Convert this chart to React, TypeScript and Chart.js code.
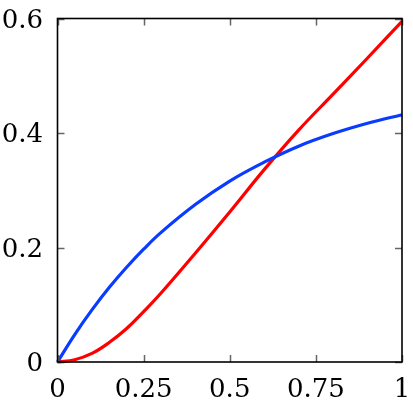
import React, { useEffect, useRef } from "react";
import { Chart, registerables } from "chart.js";

Chart.register(...registerables);

const xValues = [0, 0.05, 0.1, 0.15, 0.2, 0.25, 0.3, 0.4, 0.5, 0.6, 0.7, 0.8, 0.9, 1.0];
const blueValues = [0, 0.048, 0.091, 0.130, 0.165, 0.197, 0.226, 0.275, 0.316, 0.349, 0.377, 0.399, 0.417, 0.432];
const redValues = [0, 0.004, 0.015, 0.034, 0.058, 0.088, 0.120, 0.190, 0.262, 0.336, 0.405, 0.468, 0.531, 0.595];
const xTicks = [0, 0.25, 0.5, 0.75, 1];
const yTicks = [0, 0.2, 0.4, 0.6];
const xTickLabels = ["0", "0.25", "0.5", "0.75", "1"];
const yTickLabels = ["0", "0.2", "0.4", "0.6"];

const FONT = "26px 'DejaVu Serif', serif";

const axisPlugin = {
  id: "pgfAxis",
  afterDraw(chart: any) {
    const ctx: CanvasRenderingContext2D = chart.ctx;
    const { left, right, top, bottom } = chart.chartArea;
    const sx = chart.scales.x;
    const sy = chart.scales.y;
    ctx.save();
    ctx.setLineDash([]);
    ctx.globalAlpha = 1;
    ctx.lineCap = "butt";
    ctx.strokeStyle = "#666666";
    ctx.lineWidth = 1.5;
    const len = 7;
    ctx.beginPath();
    for (const v of xTicks) {
      const px = Math.round(sx.getPixelForValue(v)) + 0.5;
      ctx.moveTo(px, bottom);
      ctx.lineTo(px, bottom - len);
      ctx.moveTo(px, top);
      ctx.lineTo(px, top + len);
    }
    for (const v of yTicks) {
      const py = Math.round(sy.getPixelForValue(v)) + 0.5;
      ctx.moveTo(left, py);
      ctx.lineTo(left + len, py);
      ctx.moveTo(right, py);
      ctx.lineTo(right - len, py);
    }
    ctx.stroke();
    ctx.strokeStyle = "#000000";
    ctx.lineWidth = 1.6;
    ctx.strokeRect(left, top, right - left, bottom - top);

    ctx.fillStyle = "#000";
    ctx.font = FONT;
    ctx.textAlign = "center";
    ctx.textBaseline = "alphabetic";
    xTicks.forEach((v, i) => {
      ctx.fillText(xTickLabels[i], sx.getPixelForValue(v), 396.5);
    });
    ctx.textAlign = "right";
    yTicks.forEach((v, i) => {
      ctx.fillText(yTickLabels[i], 43, sy.getPixelForValue(v) + 9);
    });
    ctx.restore();
  },
};

export default function App() {
  const ref = useRef<HTMLCanvasElement>(null);
  useEffect(() => {
    document.body.style.margin = "0";
    const canvas = ref.current!;
    const chart = new Chart(canvas, {
      type: "line",
      data: {
        datasets: [
          {
            data: xValues.map((x, i) => ({ x, y: blueValues[i] })),
            borderColor: "#0a3cff",
            borderWidth: 3.2,
            pointRadius: 0,
            tension: 0.4,
            fill: false,
            clip: 3,
          },
          {
            data: xValues.map((x, i) => ({ x, y: redValues[i] })),
            borderColor: "#ff0000",
            borderWidth: 3.2,
            pointRadius: 0,
            tension: 0.4,
            fill: false,
            clip: 3,
          },
        ],
      },
      options: {
        responsive: false,
        animation: false,
        devicePixelRatio: 1,
        layout: { padding: { top: 18.5, right: 11, left: 57.5, bottom: 42 } },
        plugins: { legend: { display: false }, tooltip: { enabled: false } },
        scales: {
          x: {
            type: "linear",
            min: 0,
            max: 1,
            grid: { display: false, drawTicks: false },
            border: { display: false },
            ticks: { display: false },
          },
          y: {
            type: "linear",
            min: 0,
            max: 0.6,
            grid: { display: false, drawTicks: false },
            border: { display: false },
            ticks: { display: false },
          },
        },
      },
      plugins: [axisPlugin],
    } as any);
    return () => chart.destroy();
  }, []);
  return (
    <div style={{ position: "absolute", left: 0, top: 0, width: 413, height: 404 }}>
      <canvas ref={ref} width={413} height={404} style={{ display: "block" }} />
    </div>
  );
}
